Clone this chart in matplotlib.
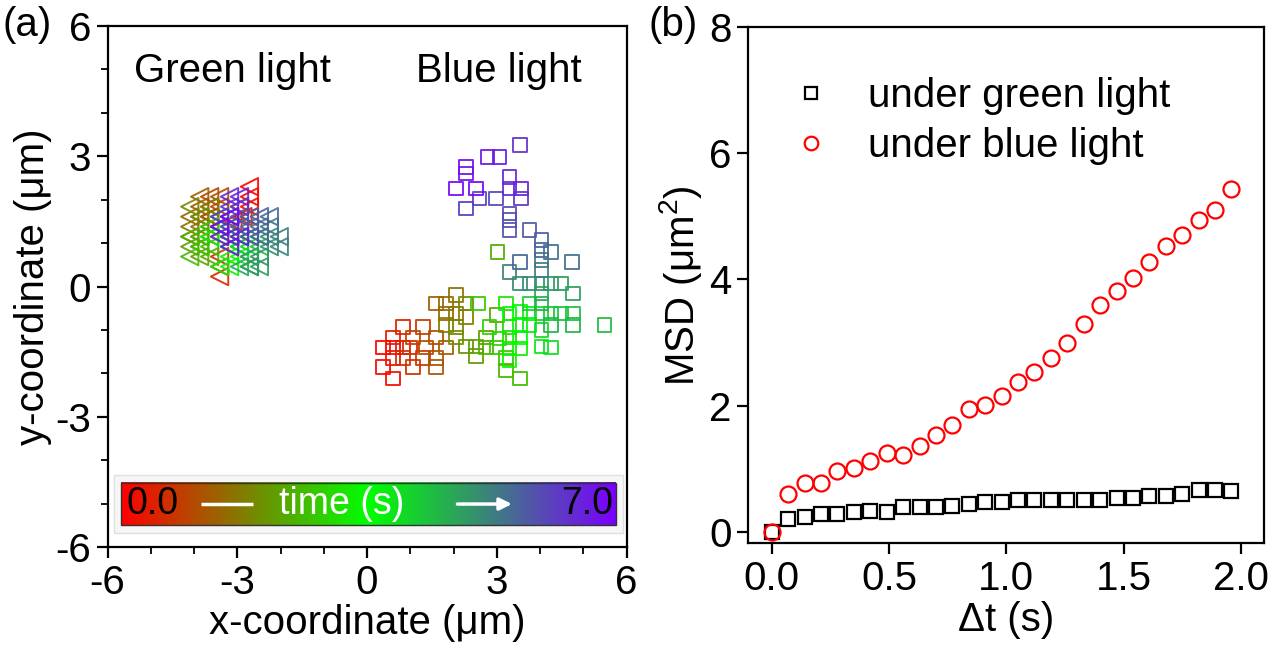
import numpy as np
import matplotlib
matplotlib.use('Agg')
import matplotlib.pyplot as plt
from matplotlib.colors import LinearSegmentedColormap
from matplotlib.patches import Rectangle
from matplotlib.ticker import MultipleLocator

plt.rcParams['font.family'] = ['Liberation Sans', 'DejaVu Sans']
plt.rcParams['mathtext.fontset'] = 'custom'
plt.rcParams['mathtext.rm'] = 'Liberation Sans'

# ---------------- data ----------------
# trajectory under green light (time ordered, frame interval 0.07 s)
green_x = [-2.72, -2.72, -2.72, -2.95, -2.87, -2.72, -3.10, -3.41, -3.41, -3.41,
           -3.18, -3.41, -3.64, -3.41, -3.64, -3.41, -3.64, -3.87, -3.64, -3.87,
           -3.87, -4.10, -3.87, -3.64, -4.10, -3.87, -3.64, -4.10, -3.87, -4.10,
           -3.87, -4.10, -3.87, -3.64, -4.10, -3.87, -3.64, -4.10, -3.87, -3.64,
           -3.64, -3.41, -3.18, -3.18, -3.41, -3.64, -3.18, -3.41, -3.18, -2.95,
           -3.18, -2.95, -3.18, -2.95, -3.18, -2.95, -3.41, -3.18, -2.95, -2.72,
           -2.72, -2.95, -2.72, -2.49, -2.72, -2.49, -2.72, -2.95, -2.72, -2.49,
           -2.72, -2.49, -2.26, -2.26, -2.03, -2.03, -2.26, -2.49, -2.26, -2.49,
           -2.72, -2.49, -2.72, -2.95, -2.72, -2.95, -3.18, -2.95, -3.18, -3.41,
           -3.18, -3.41, -3.18, -2.95, -3.18, -3.41, -2.95, -3.18, -3.41, -3.18]
green_y = [2.30, 2.07, 1.84, 1.84, 1.61, 1.61, 1.50, 0.46, 0.23, 0.69,
           1.15, 1.38, 1.61, 1.84, 2.07, 2.07, 1.84, 1.84, 1.61, 2.07,
           1.61, 1.61, 1.38, 1.38, 1.38, 1.15, 1.84, 1.84, 1.61, 1.15,
           0.92, 0.92, 0.69, 0.69, 1.15, 1.15, 0.92, 0.69, 0.92, 1.15,
           1.38, 1.38, 1.15, 0.92, 1.15, 1.15, 0.69, 0.46, 0.46, 0.69,
           0.92, 0.92, 1.15, 1.15, 1.38, 1.38, 1.61, 1.61, 1.15, 1.15,
           0.92, 0.92, 0.69, 0.92, 1.15, 1.15, 0.46, 0.46, 0.69, 0.46,
           0.46, 0.69, 0.92, 1.15, 0.92, 1.15, 1.38, 1.38, 1.61, 1.15,
           1.38, 1.61, 1.61, 1.38, 1.15, 1.61, 1.61, 1.84, 1.38, 1.38,
           1.84, 1.61, 2.07, 2.07, 1.15, 1.15, 1.15, 0.92, 1.38, 1.61]

# trajectory under blue light (time ordered, frame interval 0.07 s)
blue_x = [0.60, 0.37, 0.37, 0.60, 0.60, 0.83, 0.60, 0.83, 1.00, 0.83,
          1.06, 1.29, 1.29, 1.06, 1.37, 1.60, 1.60, 1.60, 1.83, 1.60,
          1.83, 1.83, 2.06, 2.06, 1.83, 2.29, 2.06, 2.29, 2.06, 2.29,
          2.52, 2.75, 2.52, 3.00, 3.02, 2.75, 3.22, 3.53, 3.22, 2.99,
          2.56, 2.83, 3.06, 3.29, 3.29, 3.22, 3.29, 3.53, 3.29, 3.53,
          3.53, 3.29, 3.53, 3.76, 3.76, 4.03, 4.26, 4.03, 4.03, 3.76,
          4.26, 4.49, 4.76, 5.49, 4.76, 4.26, 4.03, 4.03, 4.76, 4.49,
          4.26, 4.03, 3.76, 3.53, 3.29, 4.03, 4.03, 4.26, 4.74, 4.03,
          3.53, 4.03, 3.76, 3.29, 3.29, 3.29, 2.98, 2.60, 2.29, 3.56,
          3.53, 3.29, 3.29, 3.56, 3.06, 2.79, 2.29, 2.29, 2.06, 2.52]
blue_y = [-1.40, -1.40, -1.85, -2.12, -1.64, -1.40, -1.17, -0.93, -1.40, -1.64,
          -1.85, -1.64, -0.93, -1.17, -1.40, -1.17, -1.64, -1.85, -1.40, -0.39,
          -0.62, -0.39, -0.20, -0.62, -0.89, -0.70, -0.93, -0.39, -1.17, -1.38,
          -1.60, -1.17, -1.38, -0.66, 0.80, -1.40, -1.93, -2.12, -1.64, -1.40,
          -0.39, -0.93, -1.20, -0.93, -1.17, -0.39, -1.43, -1.43, -1.70, -0.59,
          -1.17, -0.62, -0.89, -0.62, -0.89, -1.38, -1.40, -1.00, -0.62, -0.39,
          -0.62, -0.62, -0.62, -0.89, -0.89, -0.89, -0.39, -0.16, -0.16, 0.07,
          0.07, 0.07, 0.07, 0.07, 0.34, 0.38, 0.61, 0.80, 0.57, 0.84,
          0.57, 1.07, 1.30, 1.30, 1.53, 1.68, 2.03, 2.03, 1.80, 2.03,
          3.26, 2.26, 2.53, 2.26, 2.99, 2.99, 2.60, 2.76, 2.26, 2.26]
frame_dt = 0.07
t_max = 7.0

# MSD curves
lag_time = [0.00, 0.07, 0.14, 0.21, 0.28, 0.35, 0.42, 0.49, 0.56, 0.63,
            0.70, 0.77, 0.84, 0.91, 0.98, 1.05, 1.12, 1.19, 1.26, 1.33,
            1.40, 1.47, 1.54, 1.61, 1.68, 1.75, 1.82, 1.89, 1.96]
msd_green = [0.00, 0.20, 0.24, 0.29, 0.29, 0.31, 0.33, 0.32, 0.40, 0.40,
             0.40, 0.41, 0.45, 0.47, 0.47, 0.50, 0.50, 0.50, 0.50, 0.51,
             0.51, 0.54, 0.54, 0.57, 0.57, 0.60, 0.66, 0.67, 0.65]
msd_blue = [0.00, 0.60, 0.78, 0.78, 0.96, 1.02, 1.12, 1.25, 1.22, 1.36,
            1.54, 1.70, 1.94, 2.01, 2.16, 2.37, 2.53, 2.76, 2.99, 3.29,
            3.60, 3.82, 4.03, 4.27, 4.53, 4.70, 4.94, 5.10, 5.43]

cmap = LinearSegmentedColormap.from_list('time', ['#ff0000', '#00ff00', '#7a00ff'])

fig = plt.figure(figsize=(12.82, 6.52), dpi=100)
axa = fig.add_axes([0.0839, 0.161, 0.4048, 0.799])
axb = fig.add_axes([0.5837, 0.1667, 0.4025, 0.792])

FS = 29

# ---------------- panel (a) ----------------
t_g = np.arange(len(green_x)) * frame_dt
t_b = np.arange(len(blue_x)) * frame_dt
axa.scatter(green_x, green_y, marker='<', s=12.5 ** 2, facecolors='none',
            edgecolors=cmap(t_g / t_max), linewidths=1.4, alpha=0.9)
axa.scatter(blue_x, blue_y, marker='s', s=9.8 ** 2, facecolors='none',
            edgecolors=cmap(t_b / t_max), linewidths=1.4, alpha=0.9)

axa.text(-3.11, 4.97, 'Green light', fontsize=FS, ha='center', va='center')
axa.text(3.04, 4.97, 'Blue light', fontsize=FS, ha='center', va='center')

# time colour bar
cb_x0, cb_x1, cb_y0, cb_y1 = -5.68, 5.76, -5.50, -4.52
axa.add_patch(Rectangle((cb_x0 - 0.17, cb_y0 - 0.17), cb_x1 - cb_x0 + 0.34, cb_y1 - cb_y0 + 0.34,
                        facecolor='#f6f6f6', edgecolor='#e0e0e0', lw=1.0, zorder=1))
grad = np.linspace(0, 1, 256)[None, :]
axa.imshow(grad, extent=[cb_x0, cb_x1, cb_y0, cb_y1], aspect='auto', cmap=cmap, zorder=2)
axa.add_patch(Rectangle((cb_x0, cb_y0), cb_x1 - cb_x0, cb_y1 - cb_y0,
                        facecolor='none', edgecolor='#333333', lw=1.0, zorder=3))
ymid = (cb_y0 + cb_y1) / 2
axa.text(-4.96, ymid, '0.0', fontsize=27, color='black', ha='center', va='center', zorder=4)
axa.text(5.08, ymid, '7.0', fontsize=27, color='black', ha='center', va='center', zorder=4)
axa.text(-0.59, ymid, 'time (s)', fontsize=27, color='white', ha='center', va='center', zorder=4)
axa.plot([-3.84, -2.64], [ymid, ymid], color='white', lw=2.5, zorder=4, solid_capstyle='butt')
axa.annotate('', xy=(3.35, ymid), xytext=(2.09, ymid), zorder=4,
             arrowprops=dict(arrowstyle='-|>', color='white', lw=2.5, mutation_scale=18,
                             shrinkA=0, shrinkB=0))

axa.set_xlim(-6, 6)
axa.set_ylim(-6, 6)
axa.set_xticks([-6, -3, 0, 3, 6])
axa.set_xticklabels(['-6', '-3', '0', '3', '6'])
axa.set_yticks([-6, -3, 0, 3, 6])
axa.set_yticklabels(['-6', '-3', '0', '3', '6'])
axa.xaxis.set_minor_locator(MultipleLocator(1))
axa.yaxis.set_minor_locator(MultipleLocator(1))
axa.set_xlabel('x-coordinate (μm)', fontsize=FS, labelpad=2)
axa.set_ylabel('y-coordinate (μm)', fontsize=FS, labelpad=2)

# ---------------- panel (b) ----------------
axb.plot(lag_time, msd_green, linestyle='none', marker='s', markersize=10,
         markerfacecolor='none', markeredgecolor='black', markeredgewidth=1.6,
         label='under green light')
axb.plot(lag_time, msd_blue, linestyle='none', marker='o', markersize=11.5,
         markerfacecolor='none', markeredgecolor='#ff0000', markeredgewidth=1.6,
         label='under blue light')
axb.set_xlim(-0.1, 2.1)
axb.set_ylim(-0.18, 8)
axb.set_xticks([0.0, 0.5, 1.0, 1.5, 2.0])
axb.set_xticklabels(['0.0', '0.5', '1.0', '1.5', '2.0'])
axb.set_yticks([0, 2, 4, 6, 8])
axb.set_yticklabels(['0', '2', '4', '6', '8'])
axb.set_xlabel('Δt (s)', fontsize=FS, labelpad=2)
axb.set_ylabel('MSD (μm$^{\\mathregular{2}}$)', fontsize=FS, labelpad=4)
axb.legend(loc='upper left', bbox_to_anchor=(0.06, 0.935), frameon=False, fontsize=FS,
           markerscale=0.85, handlelength=0.8, handletextpad=1.0, labelspacing=0.3,
           borderaxespad=0.0)

for ax in (axa, axb):
    for sp in ax.spines.values():
        sp.set_linewidth(1.6)
    ax.tick_params(which='major', direction='out', length=8, width=1.6, labelsize=FS,
                   top=False, right=False, pad=4)
    ax.tick_params(which='minor', direction='out', length=5, width=1.3,
                   top=False, right=False)

fig.text(0.021, 0.962, '(a)', fontsize=FS, ha='center', va='center')
fig.text(0.525, 0.962, '(b)', fontsize=FS, ha='center', va='center')

fig.savefig('out.png', dpi=100, facecolor='white')
